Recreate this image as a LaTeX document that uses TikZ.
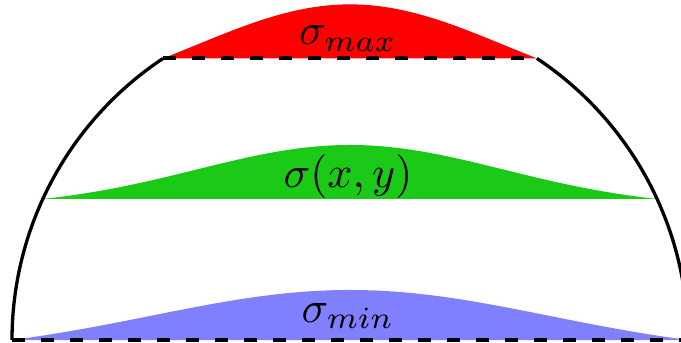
\documentclass[tikz,border=0pt]{standalone}
\definecolor{sred}{RGB}{255,0,0}
\definecolor{sgreen}{RGB}{26,202,22}
\definecolor{sblue}{RGB}{128,128,255}
\tikzset{
  rim/.style={line width=3.3pt, black},
  baseline dash/.style={line width=3.8pt, black, dash pattern=on 13pt off 16pt},
  lbl/.style={anchor=base, inner sep=0pt, scale=4.4}
}
\begin{document}
\begin{tikzpicture}[x=1pt,y=1pt]
\useasboundingbox (0,0) rectangle (681,343);
\clip (0,0) rectangle (681,343);
\coordinate (c) at (350,3);
\coordinate (bl) at (12,3);
\coordinate (br) at (688,3);
\coordinate (tl) at (163.1,284.6);
\coordinate (tr) at (536.9,284.6);
% red bump
\fill[sred] plot[domain=163.1:536.9, samples=120]
  (\x, {284.6+54*(exp(-((\x-350)/155.8)^2/2)-0.4868)/(1-0.4868)}) -- cycle;
% green bump
\fill[sgreen] plot[domain=42.8:657.2, samples=150]
  (\x, {144+54*(exp(-((\x-350)/153.6)^2/2)-0.1353)/(1-0.1353)}) -- cycle;
% blue bump
\fill[sblue] plot[domain=12:688, samples=150]
  (\x, {3+50*(exp(-((\x-350)/198.8)^2/2)-0.2357)/(1-0.2357)}) -- cycle;
% rim arcs
\draw[rim] (bl) arc[start angle=180, end angle=123.59, radius=338];
\draw[rim] (tr) arc[start angle=56.41, end angle=0, radius=338];
% dashed lines
\draw[baseline dash] (tl) -- (tr);
\draw[baseline dash] (bl) -- (br);
% labels
\node[lbl] (smax) at (348,298) {$\sigma_{max}$};
\node[lbl] (sxy) at (348,155) {$\sigma(x,y)$};
\node[lbl] (smin) at (348,21) {$\sigma_{min}$};
\end{tikzpicture}
\end{document}
